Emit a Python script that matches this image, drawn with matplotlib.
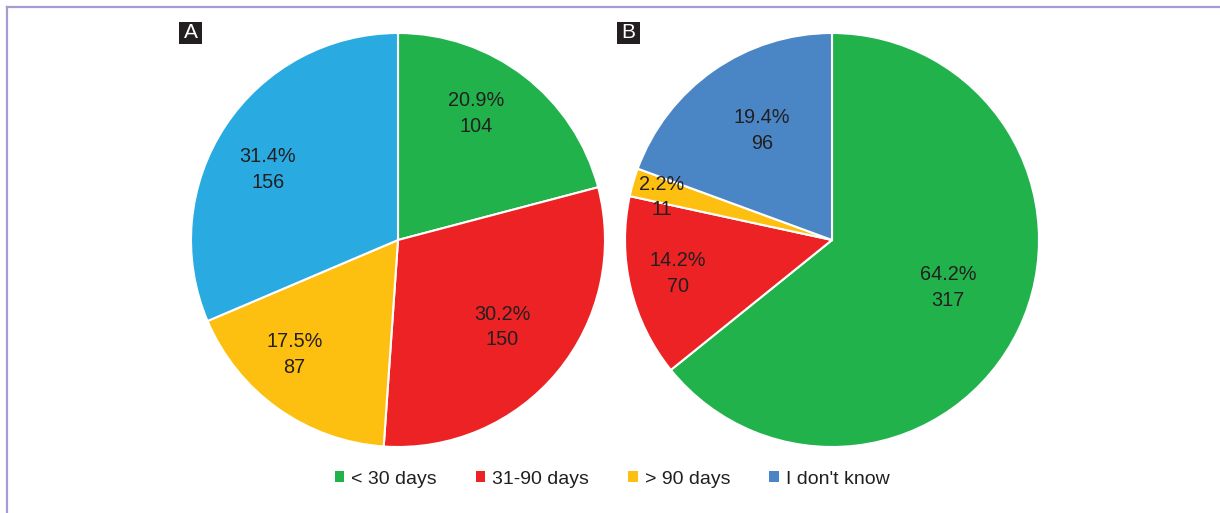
import numpy as np
import matplotlib.pyplot as plt
from matplotlib.patches import Rectangle
from matplotlib.lines import Line2D

plt.rcParams['font.family'] = ['Liberation Sans', 'DejaVu Sans']

# Data
categories = ['< 30 days', '31-90 days', '> 90 days', "I don't know"]
pct_a = [20.9, 30.2, 17.5, 31.4]
count_a = [104, 150, 87, 156]
pct_b = [64.2, 14.2, 2.2, 19.4]
count_b = [317, 70, 11, 96]

colors_a = ['#22b24c', '#ed2224', '#fdc010', '#29abe2']
colors_b = ['#22b24c', '#ed2224', '#fdc010', '#4a86c6']
legend_colors = ['#22b24c', '#ed2224', '#fdc010', '#4a86c6']

# label placement: radius (fraction of pie radius) and angle shift from wedge middle
lab_r_a = [0.718, 0.655, 0.747, 0.715]
lab_da_a = [5.9, -0.3, -6.7, 4.9]
lab_r_b = [0.605, 0.761, 0.847, 0.626]
lab_da_b = [3.3, -1.0, 2.0, -2.3]

W, H = 1220, 513
fig = plt.figure(figsize=(W / 100, H / 100), dpi=100)
fig.patch.set_facecolor('white')

# outer frame lines (top and left)
fig.add_artist(Line2D([6.5 / W, 1], [1 - 6.5 / H, 1 - 6.5 / H], color='#a29dd2', lw=1.6))
fig.add_artist(Line2D([6.5 / W, 6.5 / W], [0, 1 - 6.5 / H], color='#a29dd2', lw=1.6))

txt_color = '#231f20'


def draw_pie(cx, pcts, counts, colors, lab_r, lab_da):
    r = 207
    ax = fig.add_axes([(cx - r) / W, 1 - (240 + r) / H, 2 * r / W, 2 * r / H])
    wedges, _ = ax.pie(pcts, colors=colors, startangle=90, counterclock=False,
                       wedgeprops=dict(edgecolor='white', linewidth=1.5))
    for w, p, c, lr, da in zip(wedges, pcts, counts, lab_r, lab_da):
        ang = np.deg2rad((w.theta1 + w.theta2) / 2 + da)
        x, y = lr * np.cos(ang), lr * np.sin(ang)
        ax.text(x, y, f'{p:.1f}%\n{c}', ha='center', va='center',
                fontsize=14.3, color=txt_color, linespacing=1.45)
    ax.set_xlim(-1, 1)
    ax.set_ylim(-1, 1)
    ax.set_aspect('equal')
    ax.axis('off')
    return ax


draw_pie(398, pct_a, count_a, colors_a, lab_r_a, lab_da_a)
draw_pie(832, pct_b, count_b, colors_b, lab_r_b, lab_da_b)

# panel tags
for lab, x0 in [('A', 179), ('B', 617)]:
    fig.add_artist(Rectangle((x0 / W, 1 - 44 / H), 23 / W, 22 / H,
                             transform=fig.transFigure, facecolor='#231f20', edgecolor='none'))
    fig.text((x0 + 11.5) / W, 1 - 33 / H, lab, color='white', fontsize=15,
             ha='center', va='center')

# legend
handles = [Rectangle((0, 0), 1, 1, facecolor=c, edgecolor='none') for c in legend_colors]
fig.legend(handles, categories, loc='center', bbox_to_anchor=(612 / W, 1 - 479 / H),
           ncol=4, frameon=False, fontsize=14, handlelength=0.5, handleheight=0.5,
           handletextpad=0.35, columnspacing=2.0, labelcolor=txt_color)

fig.savefig('out.png', dpi=100)
